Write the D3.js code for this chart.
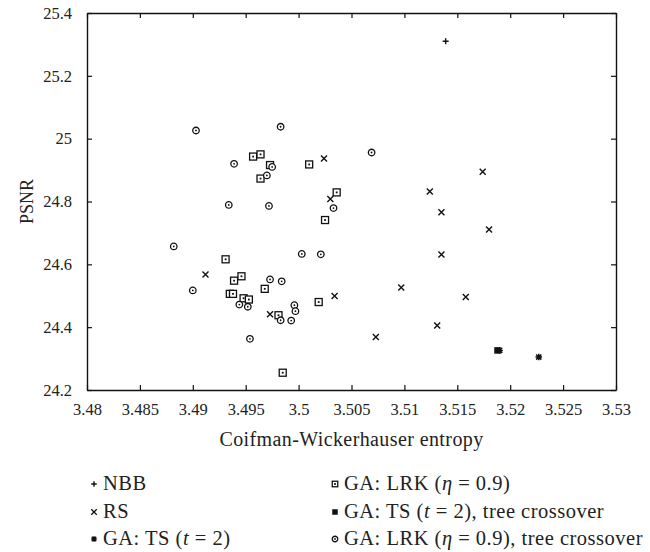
<!DOCTYPE html>
<html>
<head>
<meta charset="utf-8">
<script src="https://cdn.jsdelivr.net/npm/d3@7"></script>
<style>
  body { margin: 0; background: #fff; }
  svg text { font-family: "Liberation Serif", "DejaVu Serif", serif; fill: #222; }
</style>
</head>
<body>
<svg id="chart" width="650" height="552"></svg>
<script>
// tick values
var xTicks = [3.48, 3.485, 3.49, 3.495, 3.5, 3.505, 3.51, 3.515, 3.52, 3.525, 3.53];
var yTicks = [24.2, 24.4, 24.6, 24.8, 25, 25.2, 25.4];

// NBB (+)
var nbbPts = [[3.5139, 25.310]];

// RS (x)
var rsPts = [
  [3.5024, 24.937], [3.5030, 24.808], [3.5124, 24.832], [3.5135, 24.766],
  [3.5174, 24.895], [3.5180, 24.711], [3.5135, 24.631], [3.5097, 24.526],
  [3.5034, 24.499], [3.5158, 24.496], [3.5131, 24.405], [3.5073, 24.369],
  [3.4912, 24.568], [3.4973, 24.441]
];

// GA: TS (t = 2)  (asterisk)
var tsPts = [[3.5190, 24.326], [3.5227, 24.305]];

// GA: TS (t = 2), tree crossover (filled square)
var tsTreePts = [[3.5188, 24.326]];

// GA: LRK (eta = 0.9)  (square with dot)
var lrkPts = [
  [3.4957, 24.943], [3.4964, 24.950], [3.4973, 24.916], [3.4964, 24.873],
  [3.5010, 24.918], [3.5036, 24.829], [3.5025, 24.741], [3.4931, 24.616],
  [3.4939, 24.548], [3.4946, 24.562], [3.4968, 24.522], [3.4935, 24.506],
  [3.4938, 24.506], [3.4948, 24.492], [3.4953, 24.488], [3.5019, 24.480],
  [3.4981, 24.438], [3.4985, 24.255]
];

// GA: LRK (eta = 0.9), tree crossover (circle with dot)
var lrkTreePts = [
  [3.4903, 25.026], [3.4939, 24.920], [3.4983, 25.038], [3.5069, 24.956],
  [3.4975, 24.910], [3.4970, 24.883], [3.4972, 24.786], [3.4934, 24.789],
  [3.5033, 24.779], [3.4882, 24.657], [3.5003, 24.633], [3.5021, 24.632],
  [3.4973, 24.552], [3.4984, 24.546], [3.4900, 24.517], [3.4944, 24.472],
  [3.4952, 24.465], [3.4996, 24.470], [3.4997, 24.451], [3.4983, 24.422],
  [3.4993, 24.421], [3.4954, 24.363]
];

var legendLeft = ["NBB", "RS", "GA: TS (t = 2)"];
var legendRight = ["GA: LRK (\u03b7 = 0.9)", "GA: TS (t = 2), tree crossover", "GA: LRK (\u03b7 = 0.9), tree crossover"];

var svg = d3.select("#chart");
var margin = { left: 87, top: 13, right: 34, bottom: 162 };
var W = 650, H = 552;
var serif = "'Liberation Serif', 'DejaVu Serif', serif";

var x = d3.scaleLinear().domain([3.48, 3.53]).range([margin.left, W - margin.right]);
var y = d3.scaleLinear().domain([24.2, 25.4]).range([H - margin.bottom, margin.top]);

var fmt = function (d) { return String(+d.toFixed(3)); };

// axes with inward ticks on all four sides
svg.append("g")
  .attr("transform", "translate(0," + y.range()[0] + ")")
  .call(d3.axisBottom(x).tickValues(xTicks).tickFormat(fmt).tickSizeInner(-5).tickSizeOuter(0).tickPadding(13));
svg.append("g")
  .attr("transform", "translate(0," + y.range()[1] + ")")
  .call(d3.axisTop(x).tickValues(xTicks).tickFormat("").tickSizeInner(-5).tickSizeOuter(0));
svg.append("g")
  .attr("transform", "translate(" + x.range()[0] + ",0)")
  .call(d3.axisLeft(y).tickValues(yTicks).tickFormat(fmt).tickSizeInner(-5).tickSizeOuter(0).tickPadding(15));
svg.append("g")
  .attr("transform", "translate(" + x.range()[1] + ",0)")
  .call(d3.axisRight(y).tickValues(yTicks).tickFormat("").tickSizeInner(-5).tickSizeOuter(0));

svg.selectAll("g").attr("font-family", null);
svg.selectAll(".domain").attr("stroke", "#111").attr("stroke-width", 1.4);
svg.selectAll(".tick line").attr("stroke", "#111").attr("stroke-width", 1.2);
svg.selectAll(".tick text")
  .style("font-family", serif)
  .style("font-size", "16.5px")
  .style("fill", "#222");

// axis titles
svg.append("text")
  .attr("x", (x.range()[0] + x.range()[1]) / 2)
  .attr("y", 446)
  .attr("text-anchor", "middle")
  .style("font-family", serif)
  .style("font-size", "20px")
  .style("letter-spacing", "0.4px")
  .text("Coifman-Wickerhauser entropy");

svg.append("text")
  .attr("transform", "translate(33," + ((y.range()[0] + y.range()[1]) / 2) + ") rotate(-90)")
  .attr("text-anchor", "middle")
  .style("font-family", serif)
  .style("font-size", "18px")
  .text("PSNR");

// marker drawing helpers
function drawMarker(g, type, s) {
  var h = s / 2;
  if (type === "plus") {
    g.append("path").attr("d", "M" + (-h) + ",0H" + h + "M0," + (-h) + "V" + h)
      .attr("stroke", "#111").attr("stroke-width", 1.4).attr("fill", "none");
  } else if (type === "cross") {
    g.append("path").attr("d", "M" + (-h) + "," + (-h) + "L" + h + "," + h + "M" + (-h) + "," + h + "L" + h + "," + (-h))
      .attr("stroke", "#111").attr("stroke-width", 1.4).attr("fill", "none");
  } else if (type === "star") {
    g.append("path").attr("d", "M" + (-h) + ",0H" + h + "M0," + (-h) + "V" + h +
        "M" + (-h * 0.8) + "," + (-h * 0.8) + "L" + (h * 0.8) + "," + (h * 0.8) +
        "M" + (-h * 0.8) + "," + (h * 0.8) + "L" + (h * 0.8) + "," + (-h * 0.8))
      .attr("stroke", "#111").attr("stroke-width", 1.5).attr("fill", "none");
  } else if (type === "square") {
    g.append("rect").attr("x", -h).attr("y", -h).attr("width", s).attr("height", s)
      .attr("fill", "#fff").attr("stroke", "#111").attr("stroke-width", 1.3);
    g.append("rect").attr("x", -0.9).attr("y", -0.9).attr("width", 1.8).attr("height", 1.8).attr("fill", "#111");
  } else if (type === "fsquare") {
    g.append("rect").attr("x", -h).attr("y", -h).attr("width", s).attr("height", s).attr("fill", "#111");
  } else if (type === "circle") {
    g.append("circle").attr("r", h).attr("fill", "#fff").attr("stroke", "#111").attr("stroke-width", 1.3);
    g.append("circle").attr("r", 0.9).attr("fill", "#111");
  }
}

var series = [
  { pts: lrkPts, type: "square", size: 7 },
  { pts: lrkTreePts, type: "circle", size: 6.5 },
  { pts: rsPts, type: "cross", size: 6 },
  { pts: nbbPts, type: "plus", size: 6 },
  { pts: tsTreePts, type: "fsquare", size: 6.5 },
  { pts: tsPts, type: "star", size: 6.5 }
];

series.forEach(function (s) {
  svg.append("g").selectAll("g")
    .data(s.pts)
    .enter().append("g")
    .attr("transform", function (d) { return "translate(" + x(d[0]) + "," + y(d[1]) + ")"; })
    .each(function () { drawMarker(d3.select(this), s.type, s.size); });
});

// legend
var legendTypesLeft = ["plus", "cross", "star"];
var legendTypesRight = ["square", "fsquare", "circle"];
var rowY = [490, 518, 545];

function legendText(t, str) {
  // italic t, greek eta
  var parts = str.split(/(\bt\b|\u03b7)/);
  parts.forEach(function (p) {
    if (p === "") return;
    var ts = t.append("tspan").text(p);
    if (p === "t" || p === "\u03b7") ts.style("font-style", "italic");
  });
}

[[legendLeft, legendTypesLeft, 94], [legendRight, legendTypesRight, 335]].forEach(function (col) {
  col[0].forEach(function (label, i) {
    var g = svg.append("g").attr("transform", "translate(" + col[2] + "," + (rowY[i] - 6) + ")");
    drawMarker(g, col[1][i], 5.5);
    var t = svg.append("text")
      .attr("x", col[2] + 9)
      .attr("y", rowY[i])
      .style("font-family", serif)
      .style("font-size", "20.5px")
      .style("letter-spacing", "0.5px");
    legendText(t, label);
  });
});
</script>
</body>
</html>
